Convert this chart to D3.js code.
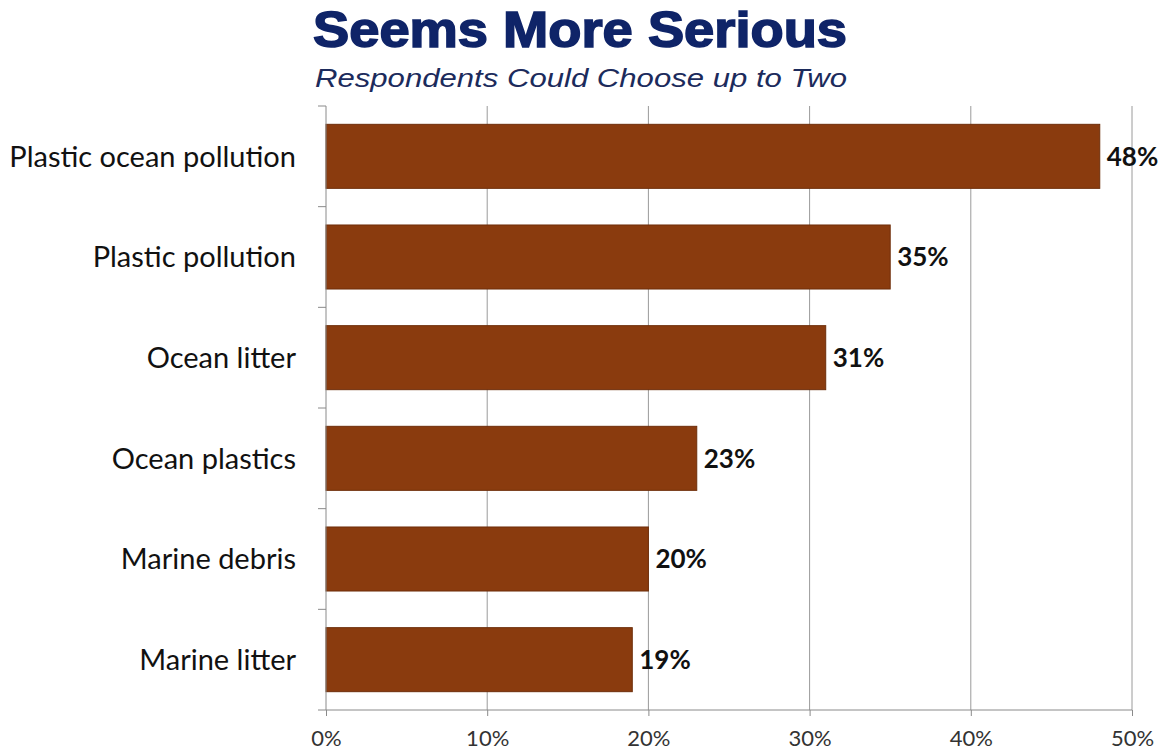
<!DOCTYPE html>
<html>
<head>
<meta charset="utf-8">
<script src="https://cdn.jsdelivr.net/npm/d3@7"></script>
<style>
  html, body { margin: 0; padding: 0; background: #ffffff; }
  svg { display: block; }
</style>
</head>
<body>
<svg id="chart" width="1162" height="753"></svg>
<script>
// Survey answers: which term seems more serious
const categories = ["Plastic ocean pollution", "Plastic pollution", "Ocean litter", "Ocean plastics", "Marine debris", "Marine litter"];
const values = [48, 35, 31, 23, 20, 19];
const tickValues = [0, 10, 20, 30, 40, 50];
const tickLabels = ["0%", "10%", "20%", "30%", "40%", "50%"];

const svg = d3.select("#chart");
const margin = { left: 326, top: 106 };
const plotBottom = 710, plotRight = 1132;

const x = d3.scaleLinear().domain([0, 50]).range([margin.left, plotRight]);
const y = d3.scaleBand().domain(categories).range([margin.top, plotBottom]).paddingInner(0.364).paddingOuter(0.182);

// Title and subtitle
svg.append("text")
  .attr("x", 580).attr("y", 47)
  .attr("text-anchor", "middle")
  .style("font-family", "'Liberation Sans', Arial, sans-serif")
  .style("font-weight", "900")
  .style("font-size", "50px")
  .style("fill", "#0f2468")
  .style("stroke", "#0f2468").style("stroke-width", "1.6px")
  .attr("textLength", 534).attr("lengthAdjust", "spacingAndGlyphs")
  .text("Seems More Serious");

svg.append("text")
  .attr("x", 581).attr("y", 87)
  .attr("text-anchor", "middle")
  .style("font-family", "'Liberation Sans', Arial, sans-serif")
  .style("font-style", "italic")
  .style("font-size", "26px")
  .style("fill", "#1c2b5c")
  .attr("textLength", 532).attr("lengthAdjust", "spacingAndGlyphs")
  .text("Respondents Could Choose up to Two");

// Vertical gridlines
svg.append("g").selectAll("line")
  .data(tickValues.slice(1))
  .join("line")
  .attr("x1", d => x(d)).attr("x2", d => x(d))
  .attr("y1", margin.top).attr("y2", plotBottom)
  .attr("stroke", "#9a9a9a").attr("stroke-width", 1);

// Bars
svg.append("g").selectAll("rect")
  .data(categories)
  .join("rect")
  .attr("x", x(0))
  .attr("y", d => y(d))
  .attr("width", (d, i) => x(values[i]) - x(0))
  .attr("height", y.bandwidth())
  .attr("fill", "#8a3b0e")
  .attr("stroke", "#6e2e0a").attr("stroke-width", 1);

// Value labels
svg.append("g").selectAll("text")
  .data(categories)
  .join("text")
  .attr("x", (d, i) => x(values[i]) + 7)
  .attr("y", d => y(d) + y.bandwidth() / 2)
  .attr("dy", "0.36em")
  .style("font-family", "Lato, 'Open Sans', sans-serif")
  .style("font-weight", "bold")
  .style("font-size", "26px")
  .style("fill", "#111")
  .text((d, i) => values[i] + "%");

// Left axis with outward ticks at band boundaries
const yAxisG = svg.append("g");
yAxisG.append("line")
  .attr("x1", x(0)).attr("x2", x(0))
  .attr("y1", margin.top).attr("y2", plotBottom)
  .attr("stroke", "#8a8a8a");
const bounds = categories.map(c => y(c) - y.step() * y.paddingInner() / 2).concat([plotBottom]);
bounds[0] = margin.top;
yAxisG.selectAll("line.tick")
  .data(bounds)
  .join("line").attr("class", "tick")
  .attr("x1", x(0) - 8).attr("x2", x(0))
  .attr("y1", d => d).attr("y2", d => d)
  .attr("stroke", "#8a8a8a");

// Category labels
svg.append("g").selectAll("text")
  .data(categories)
  .join("text")
  .attr("x", 296)
  .attr("y", d => y(d) + y.bandwidth() / 2)
  .attr("dy", "0.36em")
  .attr("text-anchor", "end")
  .style("font-family", "Lato, 'Open Sans', sans-serif")
  .style("font-size", "29px")
  .style("fill", "#111")
  .text(d => d);

// Bottom axis
const xAxis = d3.axisBottom(x)
  .tickValues(tickValues)
  .tickFormat((d, i) => tickLabels[i])
  .tickSize(6)
  .tickPadding(14);
const xg = svg.append("g").attr("transform", `translate(0,${plotBottom})`).call(xAxis);
xg.select(".domain").attr("stroke", "#8a8a8a").attr("d", `M${x(0)},0H${x(50)}`);
xg.selectAll(".tick line").attr("stroke", "#8a8a8a");
xg.selectAll(".tick text")
  .style("font-family", "Lato, 'Open Sans', sans-serif")
  .style("font-size", "22px")
  .style("fill", "#333");
</script>
</body>
</html>
